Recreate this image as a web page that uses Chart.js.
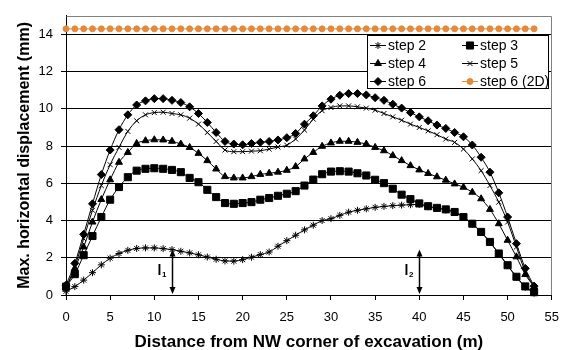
<!DOCTYPE html>
<html>
<head>
<meta charset="utf-8">
<script src="https://cdn.jsdelivr.net/npm/chart.js@4.4.1/dist/chart.umd.min.js"></script>
<style>
  html, body { margin: 0; padding: 0; background: #fff; }
  #wrap { width: 569px; height: 350px; }
</style>
</head>
<body>
<div id="wrap"><canvas id="chart" width="569" height="350"></canvas></div>
<script>
// distance along the wall (m)
const distance = [0,1,2,3,4,5,6,7,8,9,10,11,12,13,14,15,16,17,18,19,20,21,22,23,24,25,26,
  27,28,29,30,31,32,33,34,35,36,37,38,39,40,41,42,43,44,45,46,47,48,49,50,51,52,53];

// max. horizontal displacement (mm)
const step2 = [0.2,0.45,0.8,1.2,1.62,1.98,2.23,2.4,2.5,2.53,2.53,2.49,2.44,2.35,2.26,2.16,2.04,1.92,
  1.83,1.82,1.9,2.03,2.17,2.31,2.62,2.92,3.21,3.5,3.75,4.0,4.1,4.28,4.45,4.55,4.63,4.71,4.76,4.8,
  4.83,4.85,4.87,4.74,4.66,4.57,4.44,4.17,3.81,3.37,2.83,2.21,1.58,0.96,0.42,0.1];
const step3 = [0.45,1.12,2.14,3.17,4.19,5.12,5.8,6.33,6.68,6.78,6.81,6.78,6.72,6.6,6.29,6.06,5.65,5.26,
  4.94,4.9,4.94,4.99,5.12,5.21,5.33,5.44,5.58,5.88,6.2,6.49,6.63,6.65,6.63,6.54,6.42,6.19,6.01,5.71,
  5.39,5.15,4.92,4.77,4.68,4.6,4.46,4.19,3.83,3.39,2.85,2.23,1.6,0.98,0.46,0.15];
const step4 = [0.4,1.43,2.58,3.92,5.13,6.19,7.13,7.66,8.14,8.29,8.34,8.33,8.26,8.11,7.93,7.61,7.22,6.77,
  6.36,6.29,6.29,6.36,6.48,6.54,6.6,6.7,6.9,7.31,7.66,7.99,8.17,8.26,8.26,8.2,8.11,7.93,7.75,7.49,
  7.22,6.95,6.72,6.53,6.35,6.17,5.97,5.79,5.52,5.17,4.6,3.83,2.94,2.05,1.1,0.45];
const step5 = [0.35,1.51,3.03,4.55,5.88,7.0,7.93,8.79,9.36,9.68,9.8,9.82,9.75,9.68,9.5,9.18,8.73,8.25,
  7.79,7.7,7.7,7.73,7.75,7.84,7.95,8.05,8.38,8.86,9.45,9.9,10.07,10.16,10.16,10.11,10.04,9.93,9.75,9.57,
  9.39,9.18,9.0,8.82,8.61,8.38,8.2,7.84,7.31,6.68,5.88,4.99,3.92,2.58,1.25,0.45];
const step6 = [0.53,1.7,3.26,4.9,6.47,7.79,8.88,9.68,10.21,10.43,10.55,10.55,10.46,10.34,10.11,9.75,9.27,8.73,
  8.25,8.11,8.07,8.14,8.2,8.25,8.33,8.45,8.68,9.18,9.63,10.16,10.52,10.73,10.82,10.82,10.75,10.6,10.46,10.25,
  10.04,9.8,9.57,9.36,9.13,8.95,8.73,8.5,8.06,7.4,6.6,5.49,4.19,2.76,1.43,0.48];
const step6_2d = [14.3,14.3,14.3,14.3,14.3,14.3,14.3,14.3,14.3,14.3,14.3,14.3,14.3,14.3,14.3,14.3,14.3,14.3,
  14.3,14.3,14.3,14.3,14.3,14.3,14.3,14.3,14.3,14.3,14.3,14.3,14.3,14.3,14.3,14.3,14.3,14.3,14.3,14.3,
  14.3,14.3,14.3,14.3,14.3,14.3,14.3,14.3,14.3,14.3,14.3,14.3,14.3,14.3,14.3,14.3];

// arrows l1 and l2
const arrowX = [12, 40];
const arrowTop = [2.44, 2.45];
const arrowSub = ['1', '2'];

const FONT = '"Liberation Sans", Arial, sans-serif';
Chart.defaults.font.family = FONT;
Chart.defaults.color = '#000';

function series(label, values, style, radius, color) {
  return {
    label: label,
    data: distance.map((d, i) => ({x: d, y: values[i]})),
    borderColor: color,
    borderWidth: 1,
    pointStyle: style,
    pointRadius: radius,
    pointHoverRadius: radius,
    pointBackgroundColor: color,
    pointBorderColor: color,
    pointBorderWidth: 1,
    cubicInterpolationMode: 'monotone',
    clip: false
  };
}

const plotFrame = {
  id: 'plotFrame',
  beforeDatasetsDraw(chart) {
    const {ctx, chartArea: a} = chart;
    const l = Math.round(a.left) + 0.5, r = Math.round(a.right) - 0.5, t = Math.round(a.top) + 0.5;
    ctx.save();
    ctx.strokeStyle = '#808080';
    ctx.lineWidth = 1;
    ctx.beginPath();
    ctx.moveTo(l, t); ctx.lineTo(r, t); ctx.lineTo(r, Math.round(a.bottom));
    ctx.stroke();
    ctx.restore();
  }
};

function arrowHead(ctx, x, y, dir) {
  ctx.beginPath();
  ctx.moveTo(x, y);
  ctx.lineTo(x - 3, y - dir * 7);
  ctx.lineTo(x + 3, y - dir * 7);
  ctx.closePath();
  ctx.fill();
}

const arrows = {
  id: 'arrows',
  afterDatasetsDraw(chart) {
    const {ctx, scales: {x, y}} = chart;
    ctx.save();
    ctx.strokeStyle = '#000';
    ctx.fillStyle = '#000';
    ctx.lineWidth = 1.5;
    arrowX.forEach((v, i) => {
      const px = Math.round(x.getPixelForValue(v)) + 0.5;
      const top = y.getPixelForValue(arrowTop[i]);
      const bot = y.getPixelForValue(0) - 1;
      ctx.beginPath();
      ctx.moveTo(px, top + 4);
      ctx.lineTo(px, bot - 4);
      ctx.stroke();
      arrowHead(ctx, px, top, -1);
      arrowHead(ctx, px, bot, 1);
      const mid = (top + bot) / 2;
      ctx.textAlign = 'left';
      ctx.textBaseline = 'alphabetic';
      ctx.font = 'bold 14px ' + FONT;
      ctx.fillText('l', px - 15, mid + 3);
      ctx.font = 'bold 8px ' + FONT;
      ctx.fillText(arrowSub[i], px - 10.5, mid + 5);
    });
    ctx.restore();
  }
};

const legendBox = {
  id: 'legendBox',
  afterDraw(chart) {
    const {ctx, chartArea: a} = chart;
    const w = 181, h = 53;
    const left = Math.round(a.right - 4 - w), top = Math.round(a.top + 19);
    ctx.save();
    ctx.fillStyle = '#fff';
    ctx.fillRect(left, top, w, h);
    ctx.strokeStyle = '#000';
    ctx.lineWidth = 1;
    ctx.strokeRect(left + 0.5, top + 0.5, w, h);
    ctx.font = '14px ' + FONT;
    ctx.textBaseline = 'middle';
    ctx.textAlign = 'left';
    chart.data.datasets.forEach((ds, i) => {
      const col = i % 2, row = Math.floor(i / 2);
      const x0 = left + (col ? 95 : 3), y0 = top + 10.5 + row * 18;
      ctx.strokeStyle = ds.borderColor;
      ctx.lineWidth = 1;
      ctx.beginPath();
      ctx.moveTo(x0, y0);
      ctx.lineTo(x0 + 16, y0);
      ctx.stroke();
      ctx.fillStyle = ds.pointBackgroundColor;
      ctx.strokeStyle = ds.pointBorderColor;
      Chart.helpers.drawPoint(ctx, {pointStyle: ds.pointStyle, radius: ds.pointRadius, rotation: 0, borderWidth: 1}, x0 + 8, y0);
      ctx.fillStyle = '#000';
      ctx.fillText(ds.label, x0 + 18, y0 + 1);
    });
    ctx.restore();
  }
};

new Chart(document.getElementById('chart'), {
  type: 'line',
  data: {
    datasets: [
      series('step 2', step2, 'star', 3.5, '#000'),
      series('step 3', step3, 'rect', 5, '#000'),
      series('step 4', step4, 'triangle', 4, '#000'),
      series('step 5', step5, 'crossRot', 3.5, '#000'),
      series('step 6', step6, 'rectRot', 4, '#000'),
      series('step 6 (2D)', step6_2d, 'circle', 3, '#E4893A')
    ]
  },
  options: {
    responsive: false,
    animation: false,
    layout: {padding: {top: 15, right: 10, left: 0, bottom: 0}},
    plugins: {legend: {display: false}, tooltip: {enabled: false}},
    scales: {
      x: {
        type: 'linear',
        min: 0,
        max: 55,
        ticks: {stepSize: 5, font: {size: 13}, padding: 10, maxRotation: 0},
        grid: {drawOnChartArea: false, tickLength: 5, color: '#000'},
        border: {color: '#000'},
        title: {display: true, text: 'Distance from NW corner of excavation (m)',
          font: {size: 17, weight: 'bold', lineHeight: 1}, padding: {top: 0, bottom: -0.5}},
        afterFit: s => { s.height = 55; }
      },
      y: {
        min: 0,
        max: 15,
        ticks: {stepSize: 2, font: {size: 13}, padding: 8},
        afterBuildTicks: s => { s.ticks = s.ticks.filter(t => t.value <= 14); },
        grid: {tickLength: 5, color: '#000'},
        border: {color: '#000'},
        title: {display: true, text: 'Max. horizontal displacement (mm)',
          font: {size: 16, weight: 'bold', lineHeight: 1}, padding: {top: 17, bottom: 0}},
        afterFit: s => { s.width = 66; }
      }
    }
  },
  plugins: [plotFrame, arrows, legendBox]
});
</script>
</body>
</html>
